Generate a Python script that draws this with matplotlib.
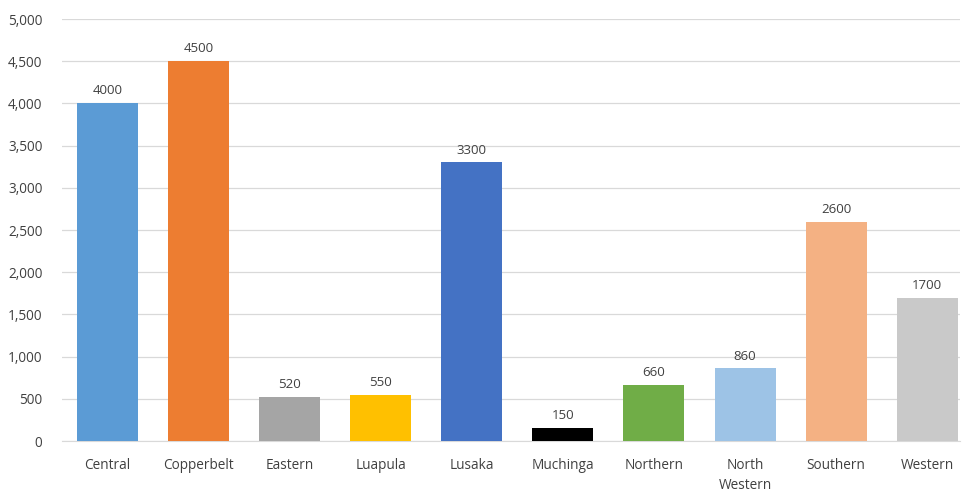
import matplotlib
matplotlib.use("Agg")
import matplotlib.pyplot as plt
from matplotlib.ticker import FuncFormatter

provinces = ["Central", "Copperbelt", "Eastern", "Luapula", "Lusaka", "Muchinga",
             "Northern", "North\nWestern", "Southern", "Western"]
values = [4000, 4500, 520, 550, 3300, 150, 660, 860, 2600, 1700]
colors = ["#5B9BD5", "#ED7D31", "#A5A5A5", "#FFC000", "#4472C4", "#000000",
          "#70AD47", "#9DC3E6", "#F4B183", "#C9C9C9"]
yticks = [0, 500, 1000, 1500, 2000, 2500, 3000, 3500, 4000, 4500, 5000]

plt.rcParams['font.family'] = ['Open Sans', 'DejaVu Sans']

fig = plt.figure(figsize=(9.65, 4.94), dpi=100)
ax = fig.add_axes([62 / 965, 53 / 494, (960 - 62) / 965, (441 - 19) / 494])

x = range(len(provinces))
bars = ax.bar(x, values, width=0.67, color=colors, zorder=3)
for xi, v in zip(x, values):
    ax.text(xi, v + 70, str(v), ha='center', va='bottom', fontsize=9.5, color='#404040')

ax.set_xlim(-0.5, 9.36)
ax.set_ylim(0, 5000)
ax.set_yticks(yticks)
ax.yaxis.set_major_formatter(FuncFormatter(lambda v, p: f"{int(v):,}"))
ax.set_xticks(list(x))
ax.set_xticklabels(provinces, fontsize=9.8, color='#404040', linespacing=1.5)
ax.tick_params(axis='y', labelsize=9.8, labelcolor='#404040', length=0, pad=14)
ax.tick_params(axis='x', length=0, pad=12)
ax.grid(axis='y', color='#D9D9D9', linewidth=0.9, zorder=0)
for s in ['top', 'right', 'left']:
    ax.spines[s].set_visible(False)
ax.spines['bottom'].set_color('#D9D9D9')

fig.savefig("out.png", dpi=100)
